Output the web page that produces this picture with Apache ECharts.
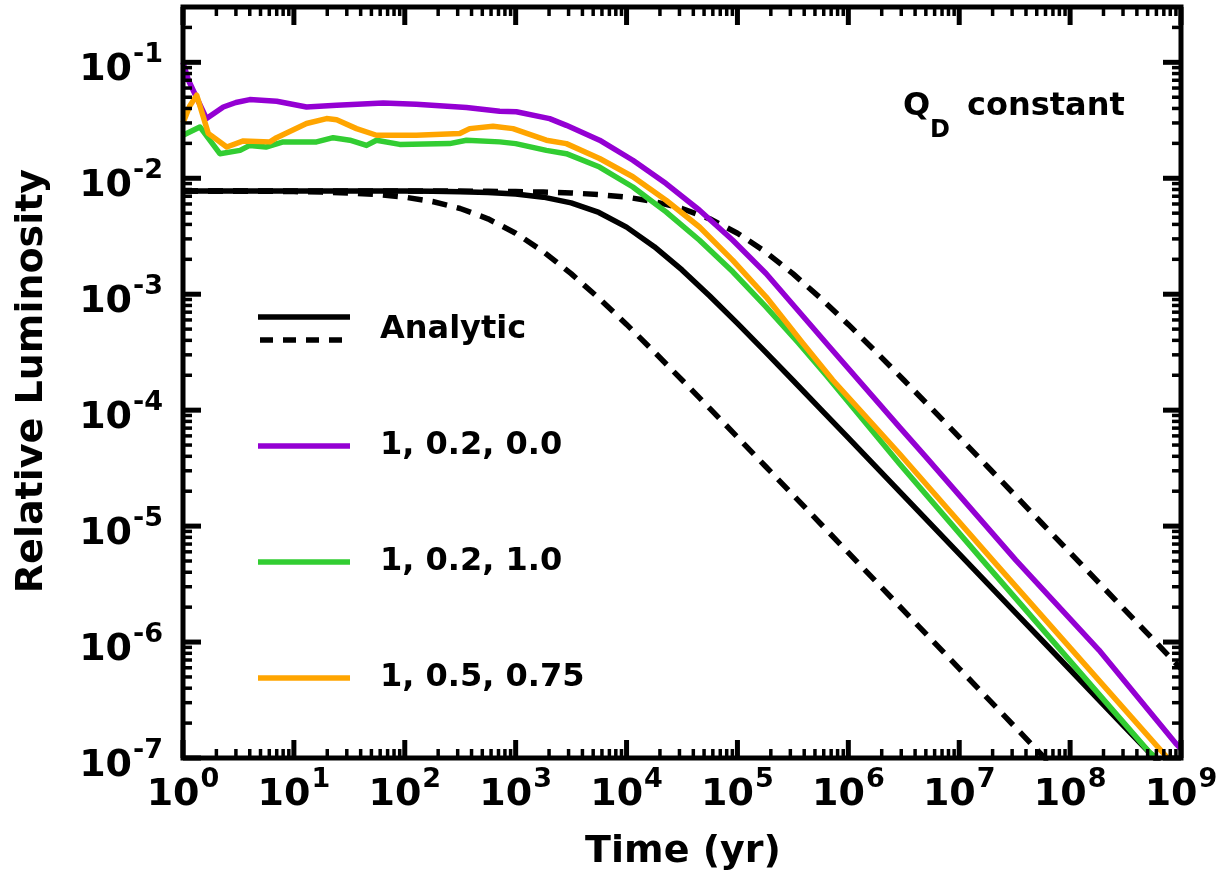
<!DOCTYPE html>
<html><head><meta charset="utf-8">
<script src="https://cdn.jsdelivr.net/npm/echarts@6/dist/echarts.min.js"></script>
<style>html,body{margin:0;padding:0;background:#fff}#c{width:1223px;height:880px}</style>
</head><body><div id="c"></div>
<script>
// ---------- data ----------
const analyticT = [1, 1.778, 3.162, 5.623, 10, 17.78, 31.62, 56.23, 100, 177.8, 316.2, 562.3,
  1e3, 1778, 3162, 5623, 1e4, 17783, 31623, 56234, 1e5, 177828, 316228, 562341,
  1e6, 1.778e6, 3.162e6, 5.623e6, 1e7, 1.778e7, 3.162e7, 5.623e7, 1e8, 1.778e8, 3.162e8, 5.623e8, 1e9];
const analyticSolid = [7.78e-3, 7.78e-3, 7.78e-3, 7.78e-3, 7.78e-3, 7.78e-3, 7.77e-3, 7.76e-3,
  7.75e-3, 7.72e-3, 7.66e-3, 7.54e-3, 7.31e-3, 6.87e-3, 6.14e-3, 5.07e-3, 3.79e-3, 2.57e-3,
  1.62e-3, 9.65e-4, 5.60e-4, 3.195e-4, 1.81e-4, 1.022e-4, 5.76e-5, 3.24e-5, 1.823e-5, 1.026e-5,
  5.77e-6, 3.24e-6, 1.824e-6, 1.026e-6, 5.77e-7, 3.24e-7, 1.824e-7, 1.026e-7, 5.77e-8];
const analyticDashLow = [7.77e-3, 7.76e-3, 7.75e-3, 7.72e-3, 7.68e-3, 7.60e-3, 7.47e-3, 7.24e-3,
  6.87e-3, 6.30e-3, 5.49e-3, 4.47e-3, 3.36e-3, 2.33e-3, 1.505e-3, 9.25e-4, 5.49e-4, 3.18e-4,
  1.82e-4, 1.036e-4, 5.86e-5, 3.30e-5, 1.862e-5, 1.048e-5, 5.90e-6, 3.32e-6, 1.866e-6, 1.05e-6,
  5.90e-7, 3.32e-7, 1.866e-7, 1.05e-7, 5.90e-8, 3.32e-8, 1.87e-8, 1.05e-8, 5.9e-9];
const analyticDashHigh = [7.78e-3, 7.78e-3, 7.78e-3, 7.78e-3, 7.78e-3, 7.78e-3, 7.78e-3, 7.78e-3,
  7.77e-3, 7.76e-3, 7.75e-3, 7.72e-3, 7.68e-3, 7.60e-3, 7.47e-3, 7.24e-3, 6.87e-3, 6.30e-3,
  5.49e-3, 4.47e-3, 3.36e-3, 2.33e-3, 1.505e-3, 9.25e-4, 5.49e-4, 3.18e-4, 1.82e-4, 1.036e-4,
  5.86e-5, 3.30e-5, 1.862e-5, 1.048e-5, 5.90e-6, 3.32e-6, 1.866e-6, 1.05e-6, 5.90e-7];

const purpleT = [1, 1.12, 1.63, 2.31, 3.0, 4.0, 7.0, 13, 24.3, 63.8, 127, 360, 718, 1014, 2023, 2864,
  5710, 11400, 22700, 45500, 90800, 181000, 675000, 2.88e6, 5.0e6, 3.24e7, 1.82e8, 8.95e8, 1e9];
const purpleL = [0.10, 0.07, 0.0327, 0.0412, 0.045, 0.0477, 0.0461, 0.0412, 0.0426, 0.0446, 0.0435,
  0.0407, 0.0379, 0.0375, 0.0327, 0.0286, 0.0213, 0.0143, 9.0e-3, 5.30e-3, 2.92e-3, 1.51e-3,
  3.52e-4, 7.18e-5, 3.95e-5, 5.09e-6, 8.53e-7, 1.34e-7, 1.2e-7];

const greenT = [1, 1.42, 2.15, 3.27, 4.0, 5.6, 8.0, 16, 22.6, 32, 45.2, 55.6, 90, 254, 360, 718, 1000,
  1890, 2864, 5710, 11400, 22700, 45500, 90800, 181000, 355000, 631000, 2.88e6, 1.62e7,
  5.15e8, 6.0e8];
const greenL = [0.0235, 0.0277, 0.0163, 0.0174, 0.0192, 0.0186, 0.0206, 0.0206, 0.0224, 0.0213,
  0.0192, 0.0213, 0.0196, 0.0199, 0.0213, 0.0206, 0.0199, 0.0174, 0.0163, 0.0125, 8.41e-3,
  5.13e-3, 2.92e-3, 1.56e-3, 7.78e-4, 3.8e-4, 2.0e-4, 3.47e-5, 5.09e-6, 1.13e-7, 1.0e-7];

const orangeT = [1, 1.15, 1.33, 1.69, 2.48, 3.5, 6.08, 6.98, 13, 19.7, 24.3, 36.7, 55.6, 127, 313,
  385, 625, 946, 1890, 2864, 5710, 11400, 22700, 45500, 90800, 181000, 387000, 723000, 2.88e6,
  2.0e7, 6.76e8, 7.6e8];
const orangeL = [0.030, 0.042, 0.052, 0.0244, 0.0186, 0.021, 0.0206, 0.0224, 0.0297, 0.0327, 0.032,
  0.0268, 0.0235, 0.0235, 0.0243, 0.0268, 0.0281, 0.0268, 0.0213, 0.0199, 0.0148, 0.0103,
  6.46e-3, 3.8e-3, 1.96e-3, 9.5e-4, 3.8e-4, 1.82e-4, 4.23e-5, 5.09e-6, 1.13e-7, 1.0e-7];

const seriesNames = ['1, 0.2, 0.0', '1, 0.2, 1.0', '1, 0.5, 0.75'];
const seriesColors = ['#9400D3', '#32CD32', '#FFA500'];
const xTickExps = [0, 1, 2, 3, 4, 5, 6, 7, 8, 9];
const yTickExps = [-7, -6, -5, -4, -3, -2, -1];
const xMin = 1, xMax = 1e9, yMin = 1e-7, yMax = 0.3;

// ---------- chart ----------
const FONT = 'DejaVu Sans';
const zip = (a, b) => a.map((v, i) => [v, b[i]]);

// tick marks (major/minor, all four sides) + frame
const tickData = [];
xTickExps.forEach(e => tickData.push([Math.pow(10, e), 1e-3, 0]));
xTickExps.slice(0, -1).forEach(e => { for (let m = 2; m <= 9; m++) tickData.push([m * Math.pow(10, e), 1e-3, 1]); });
yTickExps.forEach(e => tickData.push([10, Math.pow(10, e), 2]));
yTickExps.forEach(e => { for (let m = 2; m <= 9; m++) { const v = m * Math.pow(10, e); if (v <= yMax) tickData.push([10, v, 3]); } });
tickData.push([10, 1e-3, 4]);

function renderTick(params, api) {
  const cs = params.coordSys;
  const L = cs.x, R = cs.x + cs.width, T = cs.y, B = cs.y + cs.height;
  const kind = api.value(2);
  if (kind === 4) {
    return { type: 'rect', shape: { x: L, y: T, width: cs.width, height: cs.height },
      style: { fill: 'none', stroke: '#000', lineWidth: 5 } };
  }
  const major = (kind === 0 || kind === 2);
  const len = major ? 18 : 9;
  const mk = () => ({ stroke: '#000', lineWidth: major ? 5 : 3.5, lineCap: 'butt' });
  const p = api.coord([api.value(0), api.value(1)]);
  if (kind <= 1) {
    const x = p[0];
    return { type: 'group', children: [
      { type: 'line', shape: { x1: x, y1: B, x2: x, y2: B - len }, style: mk() },
      { type: 'line', shape: { x1: x, y1: T, x2: x, y2: T + len }, style: mk() } ] };
  }
  const y = p[1];
  return { type: 'group', children: [
    { type: 'line', shape: { x1: L, y1: y, x2: L + len, y2: y }, style: mk() },
    { type: 'line', shape: { x1: R, y1: y, x2: R - len, y2: y }, style: mk() } ] };
}

function powLabel(v) {
  const lg = Math.log10(v);
  const e = Math.round(lg);
  if (Math.abs(lg - e) > 1e-6) return '';
  return '{b|10}{s|' + e + '}';
}
const richLbl = {
  b: { fontSize: 38, fontWeight: 'bold', fontFamily: FONT, color: '#000', padding: [16, 0, 0, 0] },
  s: { fontSize: 27, fontWeight: 'bold', fontFamily: FONT, color: '#000', padding: [0, 0, 14, 1] }
};

const lineSeries = (name, data, color, dash, z) => ({
  name, type: 'line', data, showSymbol: false, symbol: 'none', clip: true, z,
  lineStyle: { color, width: 5.5, type: dash ? [15, 10] : 'solid', cap: 'butt', join: 'round' }
});

const legendY = [446, 562, 678];
const graphics = [
  { type: 'line', shape: { x1: 258, y1: 317, x2: 350, y2: 317 }, style: { stroke: '#000', lineWidth: 5.5 } },
  { type: 'line', shape: { x1: 260, y1: 340, x2: 350, y2: 340 }, style: { stroke: '#000', lineWidth: 5.5, lineDash: [13, 10] } },
  { type: 'text', x: 380, y: 330, style: { text: 'Analytic', font: 'bold 32px "DejaVu Sans"', fill: '#000', textVerticalAlign: 'middle' } },
  { type: 'text', x: 903, y: 107, style: { text: 'Q', font: 'bold 32px "DejaVu Sans"', fill: '#000', textVerticalAlign: 'middle' } },
  { type: 'text', x: 930, y: 131, style: { text: 'D', font: 'bold 24px "DejaVu Sans"', fill: '#000', textVerticalAlign: 'middle' } },
  { type: 'text', x: 967, y: 107, style: { text: 'constant', font: 'bold 32px "DejaVu Sans"', fill: '#000', textVerticalAlign: 'middle' } },
  { type: 'text', x: 683, y: 852, style: { text: 'Time (yr)', font: 'bold 38px "DejaVu Sans"', fill: '#000', textAlign: 'center', textVerticalAlign: 'middle' } },
  { type: 'text', x: 32, y: 381, rotation: Math.PI / 2, style: { text: 'Relative Luminosity', font: 'bold 38px "DejaVu Sans"', fill: '#000', textAlign: 'center', textVerticalAlign: 'middle' } }
];
seriesNames.forEach((n, i) => {
  graphics.push({ type: 'line', shape: { x1: 258, y1: legendY[i], x2: 350, y2: legendY[i] }, style: { stroke: seriesColors[i], lineWidth: 5.5 } });
  graphics.push({ type: 'text', x: 380, y: legendY[i], style: { text: n, font: 'bold 32px "DejaVu Sans"', fill: '#000', textVerticalAlign: 'middle' } });
});

const chart = echarts.init(document.getElementById('c'), null, { renderer: 'canvas' });
chart.setOption({
  animation: false,
  backgroundColor: '#fff',
  grid: { left: 183, right: 42, top: 7, bottom: 122, containLabel: false, outerBoundsMode: 'none', show: false },
  xAxis: {
    type: 'log', logBase: 10, min: xMin, max: xMax, splitNumber: 9,
    axisLine: { show: false }, axisTick: { show: false }, splitLine: { show: false }, minorTick: { show: false },
    axisLabel: { formatter: powLabel, rich: richLbl, margin: 2, showMinLabel: true, showMaxLabel: true, hideOverlap: false }
  },
  yAxis: {
    type: 'log', logBase: 10, min: yMin, max: yMax, splitNumber: 7,
    axisLine: { show: false }, axisTick: { show: false }, splitLine: { show: false }, minorTick: { show: false },
    axisLabel: { formatter: powLabel, rich: richLbl, margin: 20, hideOverlap: false }
  },
  graphic: graphics,
  series: [
    lineSeries('Analytic', zip(analyticT, analyticSolid), '#000', false, 2),
    lineSeries('Analytic low', zip(analyticT, analyticDashLow), '#000', true, 2),
    lineSeries('Analytic high', zip(analyticT, analyticDashHigh), '#000', true, 2),
    lineSeries(seriesNames[0], zip(purpleT, purpleL), seriesColors[0], false, 3),
    lineSeries(seriesNames[1], zip(greenT, greenL), seriesColors[1], false, 3),
    lineSeries(seriesNames[2], zip(orangeT, orangeL), seriesColors[2], false, 3),
    { type: 'custom', name: 'ticks', data: tickData, renderItem: renderTick, clip: false, z: 10, silent: true }
  ]
});
</script></body></html>
